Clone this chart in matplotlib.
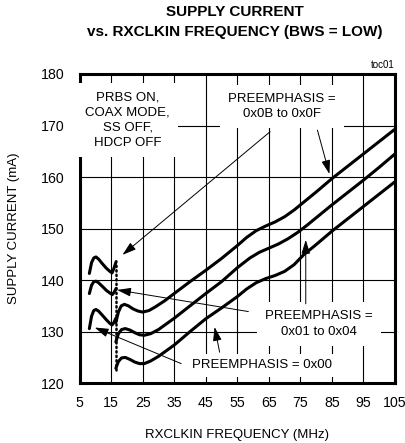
import numpy as np
import matplotlib
matplotlib.use('Agg')
import matplotlib.pyplot as plt

plt.rcParams['font.family'] = ['Liberation Sans', 'DejaVu Sans']

# supply current (mA) vs RXCLKIN frequency (MHz)
# low-frequency segments (left of the dotted line)
top_lo_f = [8.1, 8.8, 9.5, 10.2, 11.0, 12.2, 13.5, 14.6, 15.3, 15.9, 16.6]
top_lo_i = [141.3, 143.4, 144.3, 144.5, 144.1, 143.2, 142.3, 141.7, 141.4, 142.3, 143.6]
mid_lo_f = [8.1, 8.8, 9.5, 10.2, 11.0, 12.2, 13.5, 14.6, 15.4, 16.0, 16.6]
mid_lo_i = [137.4, 139.0, 139.7, 139.8, 139.5, 138.8, 138.0, 137.5, 137.2, 137.7, 138.4]
bot_lo_f = [8.1, 8.8, 9.5, 10.2, 11.0, 12.2, 13.5, 14.6, 15.3, 15.9, 16.5]
bot_lo_i = [130.6, 133.0, 134.1, 134.3, 134.0, 133.2, 132.3, 131.6, 131.3, 131.8, 132.6]

# main segments
top_hi_f = [16.5, 17.3, 18.2, 19.2, 20.5, 22.0, 23.5, 25.0, 27.0, 29.0, 32.0, 35.0, 40.0, 45.0,
            50.0, 55.0, 58.0, 61.0, 64.0, 67.0, 70.0, 73.0, 76.0, 80.0, 85.0, 90.0, 95.0, 100.0, 105.0]
top_hi_i = [131.8, 133.8, 135.0, 135.3, 135.0, 134.4, 134.0, 133.8, 134.1, 134.8, 136.0, 137.4, 139.7, 141.9,
            144.2, 146.7, 148.3, 149.6, 150.5, 151.3, 152.3, 153.6, 155.1, 157.1, 159.7, 162.1, 164.5, 166.9, 169.3]
mid_hi_f = [16.5, 17.3, 18.3, 19.5, 21.0, 22.5, 24.0, 25.5, 27.5, 30.0, 32.5, 35.0, 40.0, 45.0,
            50.0, 55.0, 59.0, 62.0, 65.0, 68.0, 71.0, 74.0, 77.0, 80.0, 85.0, 90.0, 95.0, 100.0, 105.0]
mid_hi_i = [128.0, 129.6, 130.4, 130.6, 130.3, 129.8, 129.4, 129.3, 129.6, 130.4, 131.5, 132.6, 135.0, 137.4,
            139.7, 142.4, 144.3, 145.4, 146.2, 147.0, 148.0, 149.2, 150.6, 152.1, 154.6, 157.0, 159.4, 161.9, 164.5]
bot_hi_f = [16.5, 17.3, 18.3, 19.5, 21.0, 22.5, 24.0, 25.5, 27.5, 30.0, 32.5, 35.0, 40.0, 45.0,
            50.0, 55.0, 58.0, 61.0, 64.0, 67.0, 70.0, 73.0, 76.0, 80.0, 85.0, 90.0, 95.0, 100.0, 105.0]
bot_hi_i = [122.9, 124.2, 124.9, 125.0, 124.6, 124.1, 123.8, 123.8, 124.3, 125.2, 126.3, 127.4, 130.0, 132.5,
            134.6, 136.8, 138.3, 139.5, 140.3, 140.9, 141.7, 143.0, 144.9, 146.9, 149.5, 151.9, 154.3, 156.7, 159.1]

x_ticks = [5, 15, 25, 35, 45, 55, 65, 75, 85, 95, 105]
y_ticks = [120, 130, 140, 150, 160, 170, 180]

fig = plt.figure(figsize=(4.06, 4.43), dpi=100)
ax = fig.add_axes([0.196, 0.135, 0.777, 0.698])

ax.set_xlim(5, 105)
ax.set_ylim(120, 180)
ax.set_xticks(x_ticks)
ax.set_yticks(y_ticks)
ax.tick_params(length=0, labelsize=10.2)
ax.tick_params(axis='x', pad=9)
ax.tick_params(axis='y', pad=11)
ax.grid(True, color='black', lw=0.8)
ax.set_axisbelow(True)
for s in ax.spines.values():
    s.set_linewidth(2.2)

curves = [(top_lo_f, top_lo_i), (mid_lo_f, mid_lo_i), (bot_lo_f, bot_lo_i),
          (top_hi_f, top_hi_i), (mid_hi_f, mid_hi_i), (bot_hi_f, bot_hi_i)]
for f, i in curves:
    ax.plot(f, i, color='black', lw=2.2, solid_capstyle='round', solid_joinstyle='round', zorder=5)

# dotted marker between the segments
ax.plot([16.5, 16.5], [bot_hi_i[0] - 0.4, top_lo_i[-1]], color='black', lw=1.8,
        linestyle=(0, (0.5, 1.3)), dash_capstyle='round', zorder=5)

fs = 9.5
ax.text(20.2, 171.0, 'PRBS ON,\nCOAX MODE,\nSS OFF,\nHDCP OFF', ha='center', va='center',
        fontsize=fs, linespacing=1.35, bbox=dict(fc='white', ec='none', pad=6), zorder=3)
ax.text(69.2, 173.7, 'PREEMPHASIS =\n0x0B to 0x0F', ha='center', va='center',
        fontsize=fs, linespacing=1.35, bbox=dict(fc='white', ec='none', pad=6), zorder=3)
ax.text(80.9, 131.5, 'PREEMPHASIS =\n0x01 to 0x04', ha='center', va='center',
        fontsize=fs, linespacing=1.35, bbox=dict(fc='white', ec='none', pad=6), zorder=3)
ax.text(62.8, 123.5, 'PREEMPHASIS = 0x00', ha='center', va='center',
        fontsize=fs, bbox=dict(fc='white', ec='none', pad=4), zorder=3)

arrow = dict(arrowstyle='-|>,head_length=0.7,head_width=0.22', color='black', lw=0.7,
             shrinkA=0, shrinkB=0, mutation_scale=12)
arrows = [((65.4, 168.8), (18.6, 144.9)),
          ((80.4, 169.1), (84.2, 160.6)),
          ((58.5, 133.9), (16.9, 138.1)),
          ((76.7, 135.4), (76.7, 147.8)),
          ((37.2, 123.8), (9.8, 130.8)),
          ((49.4, 126.0), (47.8, 130.9))]
for start, tip in arrows:
    ax.annotate('', xy=tip, xytext=start, arrowprops=arrow, zorder=6)

ax.set_xlabel('RXCLKIN FREQUENCY (MHz)', fontsize=9.5, labelpad=14)
ax.set_ylabel('SUPPLY CURRENT (mA)', fontsize=9.5, labelpad=15)
ax.text(1.0, 1.012, 'toc01', transform=ax.transAxes, ha='right', va='bottom', fontsize=7)

fig.text(0.578, 0.988, 'SUPPLY CURRENT\nvs. RXCLKIN FREQUENCY (BWS = LOW)', ha='center', va='top',
         fontsize=11, fontweight='bold', linespacing=1.5)

fig.savefig('out.png', dpi=100)
